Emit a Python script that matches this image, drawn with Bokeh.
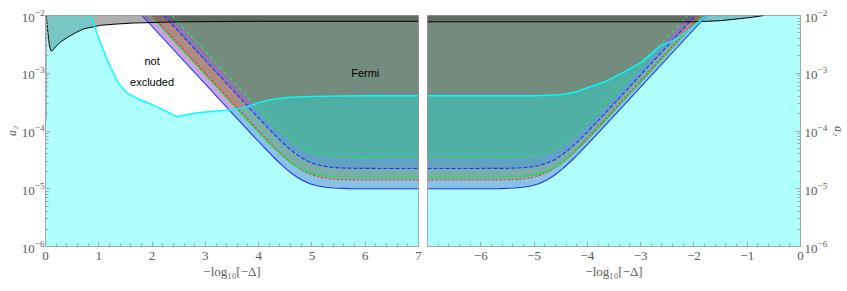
from bokeh.plotting import figure
from bokeh.layouts import row
from bokeh.models import FixedTicker, LogTickFormatter, Label, Range1d
from bokeh.embed import file_html
from bokeh.resources import INLINE

# ---------------- data (y given as log10 a2) ----------------
# Left panel, x = -log10[-Delta] from 0 to 7
L_cyan_x = [0.0, 0.86, 0.90, 0.97, 1.09, 1.22, 1.375, 1.54, 1.75, 1.97, 2.25, 2.47, 2.70, 2.90, 3.28, 3.53, 3.85, 4.00, 4.16, 4.35, 4.54, 5.00, 6.00, 7.00]
L_cyan_y = [-2.0, -2.0, -2.12, -2.32, -2.61, -2.90, -3.18, -3.35, -3.45, -3.53, -3.65, -3.75, -3.71, -3.68, -3.65, -3.63, -3.56, -3.51, -3.47, -3.44, -3.42, -3.40, -3.39, -3.39]

L_black_x = [0.0, 0.015, 0.04, 0.07, 0.10, 0.13, 0.20, 0.28, 0.41, 0.56, 0.72, 1.03, 1.30, 1.65, 2.50, 4.00, 7.00]
L_black_y = [-2.0, -2.0, -2.25, -2.50, -2.61, -2.61, -2.53, -2.46, -2.38, -2.30, -2.23, -2.17, -2.15, -2.13, -2.11, -2.10, -2.10]

L_edge_x = [0.0, 0.0]
L_edge_y = [-2.0, -3.82]

L_bsol_x = [1.81, 3.91, 4.21, 4.36, 4.51, 4.66, 4.81, 4.96, 5.11, 5.26, 5.41, 5.71, 7.0]
L_bsol_y = [-2.00, -4.097, -4.387, -4.524, -4.651, -4.762, -4.850, -4.912, -4.951, -4.974, -4.987, -4.997, -5.00]
L_rdash_x = [2.00, 3.95, 4.25, 4.40, 4.55, 4.70, 4.85, 5.00, 5.15, 5.30, 5.45, 5.75, 7.0]
L_rdash_y = [-2.00, -3.947, -4.237, -4.374, -4.501, -4.612, -4.700, -4.762, -4.801, -4.824, -4.837, -4.847, -4.85]
L_gsol_x = [1.97, 3.87, 4.17, 4.32, 4.47, 4.62, 4.77, 4.92, 5.07, 5.22, 5.37, 5.67, 7.0]
L_gsol_y = [-2.00, -3.897, -4.187, -4.324, -4.451, -4.562, -4.650, -4.712, -4.751, -4.774, -4.787, -4.797, -4.80]
L_bdash_x = [2.22, 3.97, 4.27, 4.42, 4.57, 4.72, 4.87, 5.02, 5.17, 5.32, 5.47, 5.77, 7.0]
L_bdash_y = [-2.00, -3.747, -4.037, -4.174, -4.301, -4.412, -4.500, -4.562, -4.601, -4.624, -4.637, -4.647, -4.65]
L_gdash_x = [2.375, 3.935, 4.235, 4.385, 4.535, 4.685, 4.835, 4.985, 5.135, 5.285, 5.435, 5.735, 7.0]
L_gdash_y = [-2.00, -3.557, -3.847, -3.984, -4.111, -4.222, -4.310, -4.372, -4.411, -4.434, -4.447, -4.457, -4.46]

# Right panel, x = -log10[-Delta] from -7 to 0
R_cyan_x = [-7.0, -5.0, -4.5, -4.2, -4.0, -3.8, -3.63, -3.375, -3.0, -2.625, -2.38, -2.19, -1.94, -1.82, -1.78, 0.0]
R_cyan_y = [-3.39, -3.39, -3.37, -3.32, -3.25, -3.19, -3.13, -3.01, -2.82, -2.52, -2.43, -2.32, -2.14, -2.05, -2.0, -2.0]

R_black_x = [-7.0, -2.0, -1.5, -1.19, -0.9, -0.69, 0.0]
R_black_y = [-2.11, -2.11, -2.09, -2.06, -2.03, -2.0, -2.0]

R_bsol_x = [-7.0, -5.66, -5.36, -5.21, -5.06, -4.91, -4.76, -4.61, -4.46, -4.31, -4.16, -3.86, -1.76]
R_bsol_y = [-5.00, -4.997, -4.987, -4.974, -4.951, -4.912, -4.850, -4.762, -4.651, -4.524, -4.387, -4.097, -2.00]
R_rdash_x = [-7.0, -5.62, -5.32, -5.17, -5.02, -4.87, -4.72, -4.57, -4.42, -4.27, -4.12, -3.82, -1.87]
R_rdash_y = [-4.85, -4.847, -4.837, -4.824, -4.801, -4.762, -4.700, -4.612, -4.501, -4.374, -4.237, -3.947, -2.00]
R_gsol_x = [-7.0, -5.54, -5.24, -5.09, -4.94, -4.79, -4.64, -4.49, -4.34, -4.19, -4.04, -3.74, -1.84]
R_gsol_y = [-4.80, -4.797, -4.787, -4.774, -4.751, -4.712, -4.650, -4.562, -4.451, -4.324, -4.187, -3.897, -2.00]
R_bdash_x = [-7.0, -5.52, -5.22, -5.07, -4.92, -4.77, -4.62, -4.47, -4.32, -4.17, -4.02, -3.72, -1.97]
R_bdash_y = [-4.65, -4.647, -4.637, -4.624, -4.601, -4.562, -4.500, -4.412, -4.301, -4.174, -4.037, -3.747, -2.00]
R_gdash_x = [-7.0, -5.48, -5.18, -5.03, -4.88, -4.73, -4.58, -4.43, -4.28, -4.13, -3.98, -3.68, -2.12]
R_gdash_y = [-4.46, -4.457, -4.447, -4.434, -4.411, -4.372, -4.310, -4.222, -4.111, -3.984, -3.847, -3.557, -2.00]

L_xticks = [0, 1, 2, 3, 4, 5, 6, 7]
R_xticks = [-6, -5, -4, -3, -2, -1, 0]
y_ticks = [1e-6, 1e-5, 1e-4, 1e-3, 1e-2]

Y_MIN, Y_MAX = 1e-6, 1e-2
GRAY = "#a6a6a6"
TXT = "#5a5a5a"
SERIF = "Liberation Serif"


def ten(v):
    return [10 ** a for a in v]


def style(p, xticks, xminor):
    p.xgrid.visible = False
    p.ygrid.visible = False
    p.outline_line_color = GRAY
    p.background_fill_color = "white"
    p.border_fill_color = "white"
    p.xaxis.ticker = FixedTicker(ticks=xticks, minor_ticks=xminor)
    yminor = [k * 10.0 ** e for e in range(-6, -2) for k in range(2, 10)]
    p.yaxis.ticker = FixedTicker(ticks=y_ticks, minor_ticks=yminor)
    p.yaxis.formatter = LogTickFormatter()
    for ax in p.axis:
        ax.axis_line_color = GRAY
        ax.major_tick_line_color = GRAY
        ax.minor_tick_line_color = GRAY
        ax.major_tick_in = 5
        ax.major_tick_out = 0
        ax.minor_tick_in = 3
        ax.minor_tick_out = 0
        ax.major_label_text_font = SERIF
        ax.major_label_text_font_size = "13px"
        ax.major_label_text_color = TXT
        ax.axis_label_text_font = SERIF
        ax.axis_label_text_font_size = "13px"
        ax.axis_label_text_color = TXT
    p.yaxis.major_label_standoff = 1
    p.yaxis.axis_label = "a\u2082"
    p.yaxis.axis_label_text_font_style = "italic"
    p.yaxis.axis_label_text_font_size = "12px"
    p.yaxis.axis_label_standoff = 0
    p.xaxis.major_label_standoff = 5
    p.xaxis.axis_label_standoff = 1
    p.xaxis.axis_label = "\u2212log\u2081\u2080[\u2212\u0394]"
    p.xaxis.axis_label_text_font_style = "normal"


def draw(p, cyan_x, cyan_y, black_x, black_y, curves, line_slices):
    fills = ["#c8a5dc", "#be8c96", "#af8c82", "#8c78aa", "#738c7d"]
    for (cx, cy, col, dash), fc in zip(curves, fills):
        p.varea(x=cx, y1=ten(cy), y2=[Y_MAX] * len(cx), fill_color=fc, fill_alpha=1.0)
    # grey region above the black curve
    p.varea(x=black_x, y1=ten(black_y), y2=[Y_MAX] * len(black_x), fill_color="#464646", fill_alpha=0.43)
    # cyan excluded region drawn on top
    p.varea(x=cyan_x, y1=[Y_MIN] * len(cyan_x), y2=ten(cyan_y), fill_color="#00ffff", fill_alpha=0.31)
    for cx, cy, col, dash in curves:
        p.line(x=cx, y=ten(cy), line_color=col, line_width=1.1, line_dash=dash)
    cs, bs = line_slices
    p.line(x=black_x[bs], y=ten(black_y[bs]), line_color="black", line_width=1.0)
    p.line(x=cyan_x[cs], y=ten(cyan_y[cs]), line_color="#00ffff", line_width=1.4)


pL = figure(frame_width=373, frame_height=231, x_range=Range1d(0, 7), y_range=Range1d(Y_MIN, Y_MAX),
            y_axis_type="log", output_backend="svg", toolbar_location=None,
            min_border_left=45, min_border_right=5, min_border_top=15, min_border_bottom=37)
style(pL, L_xticks, [i + 0.2 * k for i in range(0, 7) for k in range(1, 5)])
curvesL = [
    (L_bsol_x, L_bsol_y, "#1a33ff", "solid"),
    (L_rdash_x, L_rdash_y, "#ff2a2a", "2 2"),
    (L_gsol_x, L_gsol_y, "#22dd44", "solid"),
    (L_bdash_x, L_bdash_y, "#1a33ff", "4 2"),
    (L_gdash_x, L_gdash_y, "#22ee44", "4 3"),
]
draw(pL, L_cyan_x, L_cyan_y, L_black_x, L_black_y, curvesL, (slice(1, None), slice(1, None)))
pL.line(x=L_edge_x, y=ten(L_edge_y), line_color="#808080", line_width=2)
for txt, xx, yy in [("not", 2.0, -2.78), ("excluded", 2.0, -3.16), ("Fermi", 6.0, -3.0)]:
    pL.add_layout(Label(x=xx, y=10 ** yy, text=txt, text_font="Liberation Sans", text_font_size="11px",
                        text_align="center", text_baseline="middle", text_color="black"))

pR = figure(frame_width=373, frame_height=231, x_range=Range1d(-7, 0), y_range=Range1d(Y_MIN, Y_MAX),
            y_axis_type="log", y_axis_location="right", output_backend="svg", toolbar_location=None,
            min_border_left=4, min_border_right=46, min_border_top=15, min_border_bottom=37)
style(pR, R_xticks, [i + 0.2 * k for i in range(-7, 0) for k in range(1, 5)])
pR.yaxis.major_label_standoff = 4
pR.yaxis.axis_label_standoff = 2
curvesR = [
    (R_bsol_x, R_bsol_y, "#1a33ff", "solid"),
    (R_rdash_x, R_rdash_y, "#ff2a2a", "2 2"),
    (R_gsol_x, R_gsol_y, "#22dd44", "solid"),
    (R_bdash_x, R_bdash_y, "#1a33ff", "4 2"),
    (R_gdash_x, R_gdash_y, "#22ee44", "4 3"),
]
draw(pR, R_cyan_x, R_cyan_y, R_black_x, R_black_y, curvesR, (slice(0, -1), slice(0, -1)))

layout = row(pL, pR)
open("out.html", "w").write(file_html(layout, INLINE))
